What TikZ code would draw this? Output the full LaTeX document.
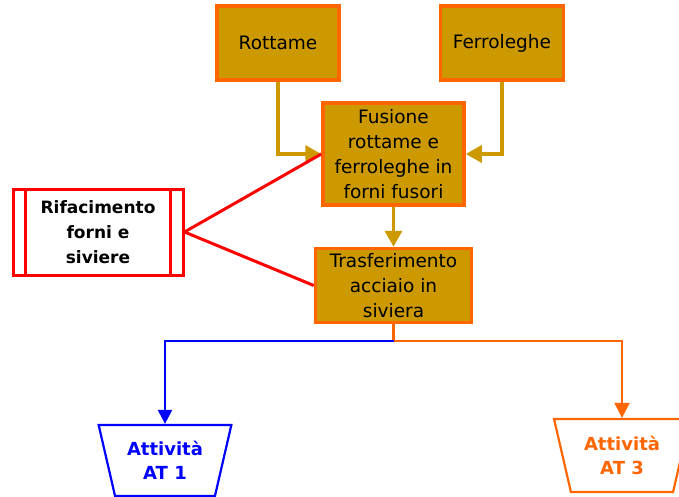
\documentclass[tikz,border=0pt]{standalone}
\usepackage{fontspec}
\setmainfont{DejaVu Sans}
\usepackage{tikz}
\usetikzlibrary{
	positioning,
	arrows.meta,
	shapes.geometric
}
\definecolor{oro}{HTML}{CC9900}
\definecolor{arancio}{HTML}{FF6600}
\definecolor{rosso}{HTML}{FF0000}
\definecolor{blu}{HTML}{0000FF}

\tikzset{
	fase/.style={draw=arancio,fill=oro,line width=3.5pt,inner sep=0pt,align=center,
		font=\fontsize{18.5}{25}\selectfont},
	manut/.style={draw=rosso,fill=white,line width=3pt,inner sep=0pt,align=center,
		font=\bfseries\fontsize{17}{25}\selectfont},
	attivita/.style={trapezium,shape border rotate=180,trapezium stretches=true,
		trapezium left angle=72,trapezium right angle=72,fill=white,line width=2.2pt,
		inner sep=0pt,align=center,font=\bfseries\fontsize{18}{24}\selectfont},
	flusso/.style={draw=oro,line width=3.5pt,-{Triangle[width=17pt,length=16pt]}},
	legame/.style={draw=rosso,line width=3pt}
}

\begin{document}
\begin{tikzpicture}[x=1pt,y=-1pt]
		\useasboundingbox (0,0) rectangle (679,497);
		\draw
			node[fase,minimum width=122pt,minimum height=74pt] (rot) at (278,43) {Rottame}
			node[fase,minimum width=123pt,minimum height=74pt,right=98pt of rot] (fer) {Ferroleghe}
			node[fase,minimum width=141pt,minimum height=102pt] (fus) at (393.5,154)
				{Fusione\\rottame e\\ferroleghe in\\forni fusori}
			node[fase,minimum width=156pt,minimum height=74pt,below=40pt of fus] (tra)
				{Trasferimento\\acciaio in\\siviera}
			node[manut,minimum width=170pt,minimum height=86pt] (rif) at (98,232)
				{Rifacimento\\forni e\\siviere}
			node[attivita,draw=blu,text=blu,minimum width=133pt,minimum height=71pt] (at1)
				at (165,460.5) {Attività\\AT 1}
			node[attivita,draw=arancio,text=arancio,minimum width=136pt,minimum height=73pt] (at3)
				at (622,455.5) {Attività\\AT 3}
		;
		\draw[legame] ([xshift=14pt]rif.north west) -- ([xshift=14pt]rif.south west);
		\draw[legame] ([xshift=-14pt]rif.north east) -- ([xshift=-14pt]rif.south east);

		\draw[flusso] (rot) |- (fus.west);
		\draw[flusso] (fer) |- (fus.east);
		\draw[flusso] (fus) -- (tra);

		\draw[legame] (rif.east) -- (fus.west);
		\draw[legame] (rif.east) -- (tra.west);

		\coordinate[below=17pt of tra] (split);
		\draw[arancio,line width=2.2pt,-{Triangle[width=15pt,length=15pt]}]
			(tra) -- (split) -| (at3);
		\draw[blu,line width=2.2pt,-{Triangle[width=14pt,length=14pt]}]
			(split) -| (at1);
	\end{tikzpicture}
\end{document}
